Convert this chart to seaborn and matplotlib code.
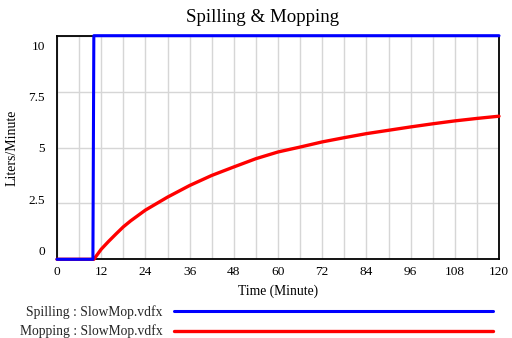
import matplotlib
matplotlib.use("Agg")
import matplotlib.pyplot as plt
import seaborn as sns
import numpy as np

# ---- data ----
title = "Spilling & Mopping"
x_label = "Time (Minute)"
y_label = "Liters/Minute"

spill_time = [0, 9.75, 10, 120]
spill_vals = [0, 0, 10, 10]

mop_time = [0, 10, 12, 14, 16, 18, 20, 24, 30, 36, 42, 48, 54, 60, 66, 72,
            78, 84, 90, 96, 102, 108, 114, 120]
mop_vals = [0, 0, 0.45, 0.8, 1.13, 1.45, 1.72, 2.2, 2.78, 3.3, 3.75, 4.13,
            4.5, 4.8, 5.02, 5.25, 5.44, 5.62, 5.77, 5.92, 6.06, 6.19, 6.3, 6.4]

series_labels = ["Spilling : SlowMop.vdfx", "Mopping : SlowMop.vdfx"]
series_colors = ["#0000ff", "#ff0000"]

x_ticks = list(range(0, 121, 12))
x_grid = list(range(0, 121, 6))
y_grid = [0, 2.5, 5, 7.5, 10]
y_tick_labels = ["0", "2.5", "5", "7.5", "10"]

# ---- style ----
sns.set_theme(style="white")
plt.rcParams["font.family"] = ["Liberation Serif", "DejaVu Serif"]

fig = plt.figure(figsize=(5.12, 3.38), dpi=100)
ax = fig.add_axes([57 / 512, 1 - 259.3 / 338, 442 / 512, 223.6 / 338])

sns.lineplot(x=mop_time, y=mop_vals, ax=ax, color=series_colors[1],
             linewidth=2.4, label=series_labels[1], clip_on=False, zorder=3)
sns.lineplot(x=spill_time, y=spill_vals, ax=ax, color=series_colors[0],
             linewidth=2.2, label=series_labels[0], clip_on=False, zorder=4)

ax.set_xlim(0, 120)
ax.set_ylim(0, 10)

# x ticks & grid
ax.set_xticks(x_ticks)
ax.set_xticks(x_grid, minor=True)
ax.tick_params(axis="x", which="both", length=0, pad=5, labelsize=9.6,
               colors="black")
# y grid at true values, labels placed Vensim-style (slightly compressed)
ax.set_yticks(y_grid, minor=True)
label_pos = [0.38 + 0.92 * v for v in y_grid]
ax.set_yticks(label_pos)
ax.set_yticklabels(y_tick_labels)
ax.tick_params(axis="y", which="both", length=0, pad=8.5, labelsize=9.6,
               colors="black")

ax.grid(False)
ax.grid(True, axis="x", which="both", color="#d6d6d6", linewidth=1.0)
ax.grid(True, axis="y", which="minor", color="#d6d6d6", linewidth=1.0)
ax.set_axisbelow(True)

for s in ax.spines.values():
    s.set_visible(True)
    s.set_color("black")
    s.set_linewidth(1.3)

ax.set_title(title, fontsize=13.6, x=0.464, pad=10, color="black")
ax.set_xlabel(x_label, fontsize=9.8, color="black")
ax.xaxis.set_label_coords(0.5, -0.115)
ax.set_ylabel(y_label, fontsize=10, color="black")
ax.yaxis.set_label_coords(-0.1018, 0.5)
ax.yaxis.label.set_va("center")

# legend: text first, long line after
handles, labels = ax.get_legend_handles_labels()
order = [labels.index(l) for l in series_labels]
ax.get_legend().remove()
fig.legend([handles[i] for i in order], [labels[i] for i in order],
           loc="upper left", bbox_to_anchor=(20 / 512, 1 - 305 / 338),
           markerfirst=False, frameon=False, fontsize=9.8,
           handlelength=23.4, handletextpad=0.85, labelspacing=0.42,
           borderpad=0, borderaxespad=0)

fig.savefig("out.png", dpi=100)
